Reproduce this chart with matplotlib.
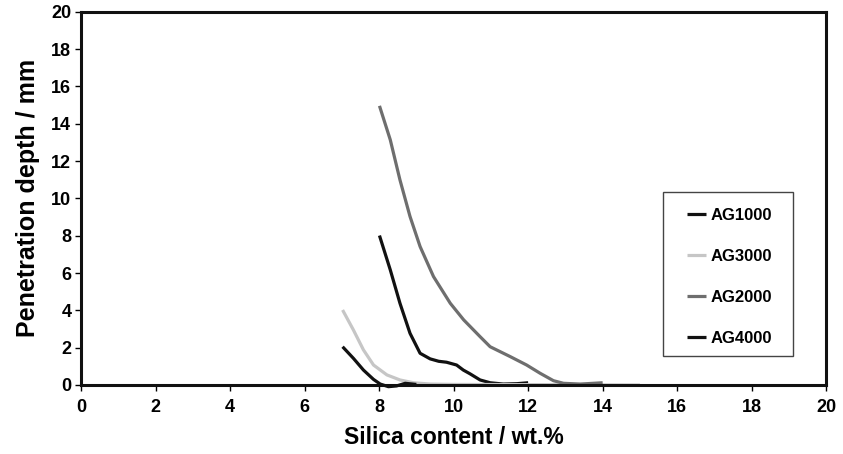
import numpy as np
import matplotlib.pyplot as plt
from matplotlib.patches import Rectangle

plt.rcParams['font.family'] = ['Liberation Sans', 'DejaVu Sans']
plt.rcParams['font.weight'] = 'bold'

# Werte
x_ag1000 = [8.01, 8.3, 8.56, 8.83, 9.1, 9.37, 9.6, 9.81, 10.08, 10.26, 10.44, 10.71, 10.98, 11.33, 11.7, 12.0]
y_ag1000 = [8.01, 6.17, 4.38, 2.77, 1.70, 1.40, 1.27, 1.22, 1.07, 0.8, 0.6, 0.27, 0.12, 0.05, 0.07, 0.12]

x_ag3000 = [7.02, 7.31, 7.58, 7.85, 8.21, 8.56, 8.92, 9.37, 10.0, 12.0, 15.0]
y_ag3000 = [4.02, 2.95, 1.88, 1.07, 0.54, 0.27, 0.12, 0.05, 0.03, 0.02, 0.0]

x_ag2000 = [8.01, 8.30, 8.56, 8.83, 9.10, 9.46, 9.91, 10.27, 10.71, 10.98, 11.52, 11.96, 12.32, 12.68, 12.95, 13.4, 14.0]
y_ag2000 = [14.96, 13.14, 10.99, 9.03, 7.42, 5.81, 4.38, 3.49, 2.59, 2.05, 1.52, 1.07, 0.63, 0.23, 0.09, 0.05, 0.12]

x_ag4000 = [7.02, 7.31, 7.58, 7.85, 8.03, 8.25, 8.47, 8.7, 9.0]
y_ag4000 = [2.05, 1.43, 0.8, 0.3, 0.05, -0.09, -0.05, 0.09, 0.03]

series = [
    ("AG1000", x_ag1000, y_ag1000, "#111111"),
    ("AG3000", x_ag3000, y_ag3000, "#c6c6c6"),
    ("AG2000", x_ag2000, y_ag2000, "#6e6e6e"),
    ("AG4000", x_ag4000, y_ag4000, "#111111"),
]

fig = plt.figure(figsize=(8.43, 4.54), dpi=100)
ax = fig.add_axes([0.0961, 0.152, 0.884, 0.822])

for name, xs, ys, col in series:
    ax.plot(xs, ys, color=col, lw=2.3, label=name, solid_capstyle='butt',
            solid_joinstyle='round', clip_on=False)

ax.set_xlim(0, 20)
ax.set_ylim(0, 20)
ax.set_xticks(np.arange(0, 21, 2))
ax.set_yticks(np.arange(0, 21, 2))
ax.tick_params(axis='both', labelsize=13, width=1.0, length=4, direction='out', pad=3)
ax.tick_params(axis='x', pad=6)
for lab in ax.get_xticklabels() + ax.get_yticklabels():
    lab.set_fontweight('bold')

for s in ax.spines.values():
    s.set_linewidth(2.2)
    s.set_color('#111111')

ax.set_xlabel("Silica content / wt.%", fontsize=16.5, fontweight='bold', labelpad=7)
ax.set_ylabel("Penetration depth / mm", fontsize=18, fontweight='bold', labelpad=8)

# Legendenrahmen
ax.add_patch(Rectangle((0.781, 0.0777), 0.1745, 0.44, transform=ax.transAxes,
                       facecolor='white', edgecolor='#444444', lw=1.0, zorder=5))
leg = ax.legend(loc='upper left', bbox_to_anchor=(0.8134, 0.474),
                fontsize=12, frameon=False, handlelength=1.1, handletextpad=0.3,
                labelspacing=1.56, borderpad=0, borderaxespad=0)
leg.set_zorder(6)
for t in leg.get_texts():
    t.set_fontweight('bold')
for h in leg.get_lines():
    h.set_linewidth(2.3)

plt.savefig("out.png", dpi=100)
